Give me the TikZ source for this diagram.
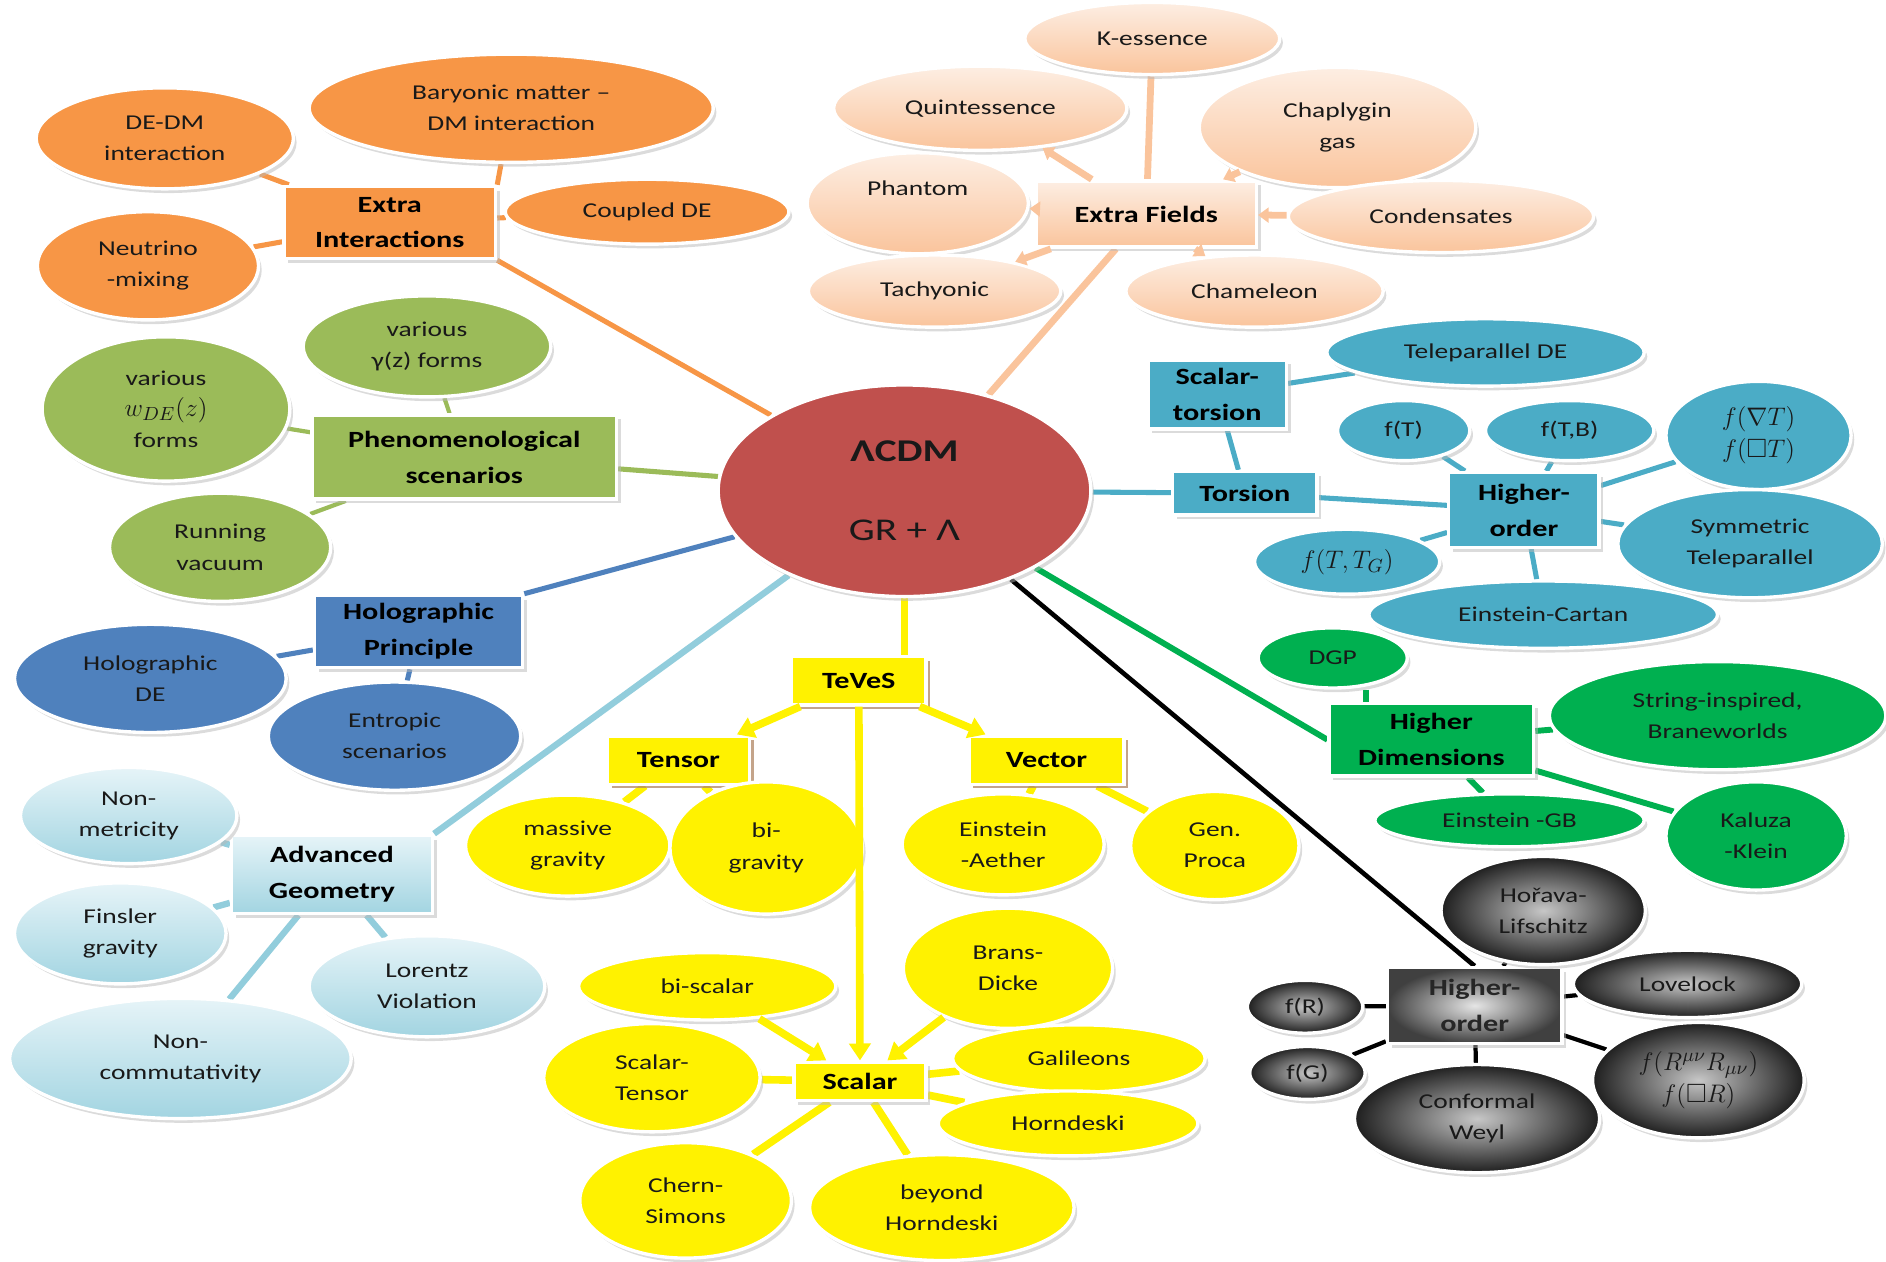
\documentclass[tikz,border=0pt]{standalone}
\usepackage{amsmath,amssymb}
\usepackage{fontspec}
\setmainfont{Carlito}[FakeStretch=1.3]
\usepackage{tikz}
\usetikzlibrary{shapes.geometric,arrows.meta,shadows}
\definecolor{LcdmRed}{HTML}{C0504D}
\definecolor{MsOrange}{HTML}{F79646}
\definecolor{MsPeach}{HTML}{FAC49C}
\definecolor{MsPeachL}{HTML}{FDEEE3}
\definecolor{MsOlive}{HTML}{9BBB59}
\definecolor{MsBlue}{HTML}{4F81BD}
\definecolor{MsSky}{HTML}{92CDDC}
\definecolor{MsSkyL}{HTML}{E6F4F8}
\definecolor{MsTeal}{HTML}{4BACC6}
\definecolor{MsGreen}{HTML}{00B050}
\definecolor{MsBrown}{HTML}{984807}
\pgfdeclarelayer{bg}
\pgfsetlayers{bg,main}
\newcommand{\ellfont}{\fontsize{10}{14.7}\selectfont}
\newcommand{\boxfont}{\bfseries\fontsize{11}{17}\selectfont}
\newcommand{\mathfont}{\fontsize{12.5}{15}\selectfont}
\tikzset{
  rxy/.style 2 args={minimum width=#1*0.04cm, minimum height=#2*0.04cm},
  wh/.style 2 args={minimum width=#1*0.02cm, minimum height=#2*0.02cm},
  bub/.style={ellipse, draw=white, line width=1.6pt, inner sep=0pt, align=center, font=\ellfont,
    text=black!90, drop shadow={shadow xshift=1.5pt, shadow yshift=-2pt, fill=black!28}},
  cat/.style={rectangle, draw=white, line width=1.6pt, inner sep=0pt, align=center, font=\boxfont,
    drop shadow={shadow xshift=2pt, shadow yshift=-2pt, fill=black!28}},
  pch/.style={top color=MsPeachL, bottom color=MsPeach},
  sky/.style={top color=MsSkyL, bottom color=MsSky!85},
  blk/.style={inner color=black!22, outer color=black!88},
  blkbox/.style={inner color=black!10, outer color=black!75},
  ylw/.style={fill=yellow},
  ybox/.style={cat, ylw, drop shadow={shadow xshift=2pt, shadow yshift=-2pt, fill=MsBrown!80}},
  link/.style={line width=2.4pt},
  tip/.style={-{Triangle[length=8pt,width=10pt]}},
  smalltip/.style={-{Triangle[length=5pt,width=7pt]}},
}
\begin{document}
\begin{tikzpicture}[x=0.02cm, y=-0.02cm]
\useasboundingbox (0,0) rectangle (1568,1049);

% centre
\node[bub, fill=LcdmRed, rxy={155}{88}, font=\fontsize{15}{37}\selectfont] (lcdm) at (752,408) {\textbf{ΛCDM}\\GR + Λ};

% extra interactions
\node[cat, fill=MsOrange, wh={176}{60}] (xint) at (324,185) {Extra\\Interactions};
\node[bub, fill=MsOrange, rxy={107}{42}] (dedm) at (137,115) {DE-DM\\interaction};
\node[bub, fill=MsOrange, rxy={168}{45}] (bary) at (425,90) {Baryonic matter –\\DM interaction};
\node[bub, fill=MsOrange, rxy={118}{27}] (cde) at (538,176) {Coupled DE};
\node[bub, fill=MsOrange, rxy={92}{45}] (neut) at (123,221) {Neutrino\\-mixing};

% extra fields
\node[cat, pch, wh={183}{55}] (xfld) at (953,178) {Extra Fields};
\node[bub, pch, rxy={106}{30}] (kess) at (958,32) {K-essence};
\node[bub, pch, rxy={122}{35}] (quint) at (815,90) {Quintessence};
\node[bub, pch, rxy={115}{50}] (chap) at (1112,106) {Chaplygin\\gas};
\node[bub, pch, rxy={92}{42}] (phant) at (763,169) {Phantom\\\phantom{Phantom}};
\node[bub, pch, rxy={127}{30}] (cond) at (1198,180) {Condensates};
\node[bub, pch, rxy={105}{30}] (tach) at (777,242) {Tachyonic};
\node[bub, pch, rxy={107}{30}] (cham) at (1043,242) {Chameleon};

% phenomenology
\node[cat, fill=MsOlive, wh={253}{70}] (phen) at (386,380) {Phenomenological\\scenarios};
\node[bub, fill=MsOlive, rxy={103}{60}] (wde) at (138,340) {various\\{\mathfont$w_{DE}(z)$}\\forms};
\node[bub, fill=MsOlive, rxy={103}{42}] (gamz) at (355,288) {various\\γ(z) forms};
\node[bub, fill=MsOlive, rxy={92}{45}] (rvac) at (183,455) {Running\\vacuum};

% holography
\node[cat, fill=MsBlue, wh={173}{60}] (holo) at (348,525) {Holographic\\Principle};
\node[bub, fill=MsBlue, rxy={113}{45}] (hde) at (125,564) {Holographic\\DE};
\node[bub, fill=MsBlue, rxy={105}{45}] (entr) at (328,612) {Entropic\\scenarios};

% advanced geometry
\node[cat, sky, wh={167}{65}] (advg) at (276,727) {Advanced\\Geometry};
\node[bub, sky, rxy={90}{40}] (nonmet) at (107,678) {Non-\\metricity};
\node[bub, sky, rxy={88}{42}] (fins) at (100,776) {Finsler\\gravity};
\node[bub, sky, rxy={98}{42}] (lor) at (355,820) {Lorentz\\Violation};
\node[bub, sky, rxy={142}{50}] (noncom) at (150,880) {Non-\\commutativity};

% TeVeS
\node[ybox, wh={112}{40}] (teves) at (714,566) {TeVeS};
\node[ybox, wh={118}{40}] (tens) at (564,632) {Tensor};
\node[ybox, wh={129}{40}] (vect) at (870,632) {Vector};
\node[bub, ylw, rxy={85}{42}] (mgrav) at (472,703) {massive\\gravity};
\node[bub, ylw, rxy={80}{55}] (bigrav) at (637,705) {bi-\\gravity};
\node[bub, ylw, rxy={84}{42}] (aeth) at (834,702) {Einstein\\-Aether};
\node[bub, ylw, rxy={70}{45}] (proca) at (1010,703) {Gen.\\Proca};
\node[cat, ylw, wh={110}{32}] (scal) at (715,899) {Scalar};
\node[bub, ylw, rxy={107}{28}] (bisc) at (588,820) {bi-scalar};
\node[bub, ylw, rxy={87}{50}] (brans) at (838,805) {Brans-\\Dicke};
\node[bub, ylw, rxy={90}{45}] (stens) at (542,896) {Scalar-\\Tensor};
\node[bub, ylw, rxy={105}{28}] (gal) at (897,880) {Galileons};
\node[bub, ylw, rxy={108}{27}] (horn) at (888,934) {Horndeski};
\node[bub, ylw, rxy={88}{48}] (chern) at (570,998) {Chern-\\Simons};
\node[bub, ylw, rxy={110}{44}] (bhorn) at (783,1004) {beyond\\Horndeski};

% torsion
\node[cat, fill=MsTeal, wh={120}{36}] (tors) at (1035,410) {Torsion};
\node[cat, fill=MsTeal, wh={115}{57}] (sctor) at (1012,328) {Scalar-\\torsion};
\node[bub, fill=MsTeal, rxy={132}{28}] (tdeq) at (1235,293) {Teleparallel DE};
\node[cat, fill=MsTeal, wh={125}{62}] (tho) at (1267,424) {Higher-\\order};
\node[bub, fill=MsTeal, rxy={55}{25}] (ft) at (1167,358) {f(T)};
\node[bub, fill=MsTeal, rxy={70}{25}] (ftb) at (1305,358) {f(T,B)};
\node[bub, fill=MsTeal, rxy={77}{45}, font=\mathfont] (fnab) at (1462,362) {$f(\nabla T)$\\$f(\Box T)$};
\node[bub, fill=MsTeal, rxy={110}{45}] (symt) at (1455,452) {Symmetric\\Teleparallel};
\node[bub, fill=MsTeal, rxy={77}{27}, font=\mathfont] (ftg) at (1120,467) {$f(T,T_G)$};
\node[bub, fill=MsTeal, rxy={145}{28}] (ecart) at (1283,511) {Einstein-Cartan};

% higher dimensions
\node[cat, fill=MsGreen, wh={170}{60}] (hdim) at (1190,615) {Higher\\Dimensions};
\node[bub, fill=MsGreen, rxy={62}{25}] (dgp) at (1108,547) {DGP};
\node[bub, fill=MsGreen, rxy={140}{45}] (string) at (1428,595) {String-inspired,\\Braneworlds};
\node[bub, fill=MsGreen, rxy={112}{22}] (egb) at (1255,682) {Einstein -GB};
\node[bub, fill=MsGreen, rxy={75}{45}] (kk) at (1460,695) {Kaluza\\-Klein};

% higher order curvature
\node[cat, blkbox, wh={145}{63}, text=black!85] (rho) at (1226,836) {Higher-\\order};
\node[bub, blk, rxy={85}{45}] (horava) at (1283,757) {Hořava-\\Lifschitz};
\node[bub, blk, rxy={95}{28}] (lovel) at (1403,818) {Lovelock};
\node[bub, blk, rxy={48}{22}] (fr) at (1085,837) {f(R)};
\node[bub, blk, rxy={48}{22}] (fg) at (1087,892) {f(G)};
\node[bub, blk, rxy={102}{45}] (weyl) at (1228,930) {Conformal\\Weyl};
\node[bub, blk, rxy={88}{48}, font=\mathfont] (frr) at (1412,898) {$f(R^{\mu\nu}R_{\mu\nu})$\\$f(\Box R)$};

\begin{pgfonlayer}{bg}
  \draw[link, MsOrange] (lcdm) -- (xint.south east);
  \draw[link, MsOrange] (xint) -- (dedm);
  \draw[link, MsOrange] (xint.north east) -- (bary);
  \draw[link, MsOrange] (xint) -- (cde);
  \draw[link, MsOrange] (xint) -- (neut);
  \draw[link, MsPeach, line width=3.2pt] (lcdm) -- (xfld);
  \draw[link, MsPeach, line width=3.2pt] (xfld) -- (kess);
  \draw[link, MsOlive] (lcdm) -- (phen);
  \draw[link, MsOlive, line width=2pt] (phen) -- (wde);
  \draw[link, MsOlive, line width=2pt] (phen) -- (gamz);
  \draw[link, MsOlive, line width=2pt] (phen) -- (rvac);
  \draw[link, MsBlue] (lcdm) -- (holo.north east);
  \draw[link, MsBlue] (holo) -- (hde);
  \draw[link, MsBlue] (holo) -- (entr);
  \draw[link, MsSky, line width=3pt] (lcdm) -- (advg.north east);
  \draw[link, MsSky, line width=3pt] (advg) -- (nonmet);
  \draw[link, MsSky, line width=3pt] (advg) -- (fins);
  \draw[link, MsSky, line width=3pt] (advg) -- (lor);
  \draw[link, MsSky, line width=3pt] (advg) -- (noncom);
  \draw[link, yellow, line width=3.6pt] (lcdm.south) -- (lcdm.south |- teves.north);
  \draw[link, yellow, line width=3.6pt] (tens) -- (mgrav);
  \draw[link, yellow, line width=3.6pt] (tens) -- (bigrav);
  \draw[link, yellow, line width=3.6pt] (vect) -- (aeth);
  \draw[link, yellow, line width=3.6pt] (vect) -- (proca);
  \draw[link, yellow, line width=3.6pt] (stens) -- (scal);
  \draw[link, yellow, line width=3.6pt] (gal) -- (scal);
  \draw[link, yellow, line width=3.6pt] (horn) -- (scal);
  \draw[link, yellow, line width=3.6pt] (chern) -- (scal);
  \draw[link, yellow, line width=3.6pt] (bhorn) -- (scal);
  \draw[link, MsTeal] (lcdm) -- (tors);
  \draw[link, MsTeal] (tors) -- (sctor);
  \draw[link, MsTeal] (sctor) -- (tdeq);
  \draw[link, MsTeal] (tors) -- (tho);
  \draw[link, MsTeal] (tho) -- (ft);
  \draw[link, MsTeal] (tho) -- (ftb);
  \draw[link, MsTeal] (tho) -- (fnab);
  \draw[link, MsTeal] (tho) -- (symt);
  \draw[link, MsTeal] (tho) -- (ftg);
  \draw[link, MsTeal] (tho) -- (ecart);
  \draw[link, MsGreen, line width=2.8pt] (lcdm) -- (hdim.west);
  \draw[link, MsGreen, line width=2.8pt] (dgp.south -| hdim.150) -- (hdim.150);
  \draw[link, MsGreen, line width=2.8pt] (hdim) -- (string);
  \draw[link, MsGreen, line width=2.8pt] (hdim) -- (egb);
  \draw[link, MsGreen, line width=2.8pt] (hdim) -- (kk);
  \draw[link, black, line width=2.2pt] (lcdm) -- (rho.north);
  \draw[link, black, line width=2pt] (rho) -- (horava);
  \draw[link, black, line width=2pt] (rho) -- (lovel);
  \draw[link, black, line width=2pt] (rho) -- (fr);
  \draw[link, black, line width=2pt] (rho) -- (fg);
  \draw[link, black, line width=2pt] (rho) -- (weyl);
  \draw[link, black, line width=2pt] (rho) -- (frr);
\end{pgfonlayer}

% arrowed links
\draw[link, smalltip, MsPeach, line width=3.2pt] (xfld) -- (quint);
\draw[link, smalltip, MsPeach, line width=3.2pt] (xfld) -- (phant);
\draw[link, smalltip, MsPeach, line width=3.2pt] (chap) -- (xfld);
\draw[link, smalltip, MsPeach, line width=3.2pt] (cond) -- (xfld);
\draw[link, smalltip, MsPeach, line width=3.2pt] (xfld) -- (tach);
\draw[link, smalltip, MsPeach, line width=3.2pt] (xfld) -- (cham);
\draw[link, tip, yellow, line width=3.6pt] (teves) -- (tens);
\draw[link, tip, yellow, line width=3.6pt] (teves) -- (vect);
\draw[link, tip, yellow, line width=3.6pt] (teves) -- (scal);
\draw[link, tip, yellow, line width=3.6pt] (bisc) -- (scal);
\draw[link, tip, yellow, line width=3.6pt] (brans) -- (scal);
\end{tikzpicture}
\end{document}
